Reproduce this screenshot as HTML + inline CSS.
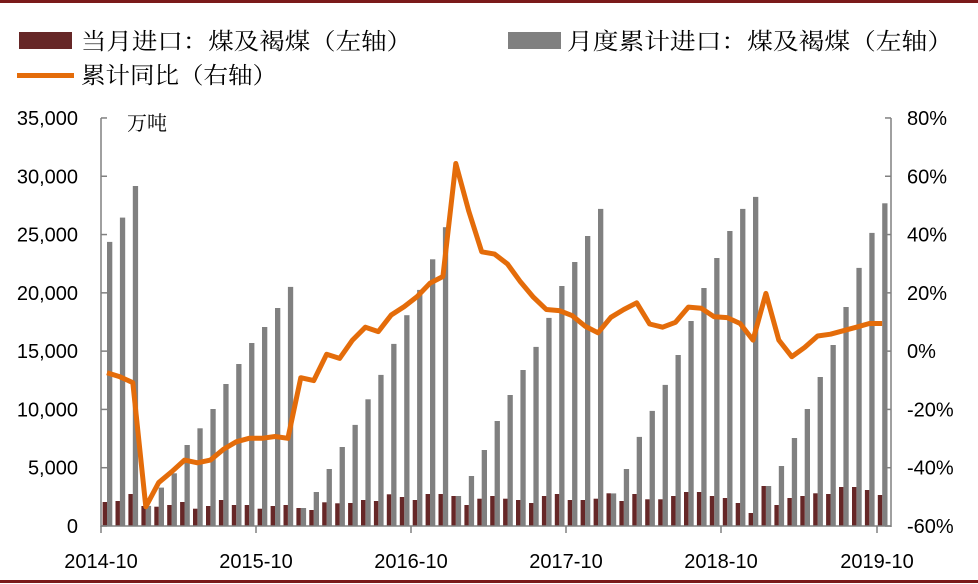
<!DOCTYPE html>
<html><head><meta charset="utf-8"><style>
body{margin:0;background:#fff;}
svg{display:block;}
text{font-family:"Liberation Sans",Arial,sans-serif;fill:#000;}
.cjk{font-family:"Liberation Serif","Noto Serif CJK SC","Noto Sans CJK SC",serif;}
</style></head><body>
<svg id="c" width="978" height="584" xmlns="http://www.w3.org/2000/svg">
<rect x="0" y="0" width="978" height="3" fill="#7a1a1a"/>
<rect x="0" y="580" width="978" height="3" fill="#7a1a1a"/>
<rect x="19" y="32" width="53" height="17" fill="#662727"/>
<text class="cjk" x="81" y="49" font-size="23" textLength="331" lengthAdjust="spacingAndGlyphs">当月进口：煤及褐煤（左轴）</text>
<rect x="508" y="32" width="53" height="17" fill="#808080"/>
<text class="cjk" x="567" y="49" font-size="23" textLength="386" lengthAdjust="spacingAndGlyphs">月度累计进口：煤及褐煤（左轴）</text>
<rect x="17" y="73" width="57" height="5" fill="#e46c0a"/>
<text class="cjk" x="81" y="83" font-size="23" textLength="196" lengthAdjust="spacingAndGlyphs">累计同比（右轴）</text>
<text class="cjk" x="127" y="130" font-size="20">万吨</text>
<g id="g"></g>
</svg>
<script>
var g=document.getElementById('g'),h='';
var gray=[24370,26460,29170,1720,3290,4520,6950,8380,10040,12180,13900,15700,17070,18700,20510,1540,2920,4890,6780,8670,10870,12960,15620,18080,20250,22880,25630,2570,4290,6520,9010,11240,13380,15360,17850,20590,22650,24880,27200,2800,4890,7640,9870,12100,14670,17590,20420,22990,25310,27200,28230,3430,5150,7550,10040,12780,15530,18790,22140,25140,27680];
var dk=[1176,1173,1152,1188,1190,1185,1176,1196,1188,1170,1185,1185,1196,1188,1185,1194,1200,1177,1180,1179,1170,1173,1153,1161,1170,1152,1152,1158,1185,1166,1158,1166,1170,1179,1158,1152,1170,1170,1166,1150,1173,1152,1168,1168,1158,1146,1146,1158,1164,1179,1209,1128,1185,1164,1158,1150,1152,1131,1131,1140,1155].map(function(z){return (1248-z)*28.6;});
var ln=[-7.4,-8.8,-10.8,-53.4,-45.1,-41.4,-37.4,-38.3,-37.4,-33.7,-31.1,-29.9,-29.9,-29.3,-29.9,-9.1,-10.1,-1.1,-2.5,3.8,8.2,6.7,12.4,15.3,18.7,23.3,25.6,64.4,48,34.1,33.3,29.9,23.8,18.5,14.3,13.9,12.2,8.6,6.3,11.6,14.3,16.6,9.3,8.2,9.9,15.1,14.7,11.8,11.5,9.5,3.8,19.8,3.8,-1.9,1.3,5.2,5.8,7.0,8.2,9.5,9.5];
var B=526,k=408/35000,s=12.92,x0=101;
for(var i=0;i<61;i++){var x=x0+s*i;
h+='<rect x="'+(x+6).toFixed(1)+'" y="'+(B-gray[i]*k).toFixed(1)+'" width="5.3" height="'+(gray[i]*k).toFixed(1)+'" fill="#808080"/>';
h+='<rect x="'+(x+1.6).toFixed(1)+'" y="'+(B-dk[i]*k).toFixed(1)+'" width="4.4" height="'+(dk[i]*k).toFixed(1)+'" fill="#662727"/>';}
var p=[];for(i=0;i<61;i++)p.push((x0+s*i+6).toFixed(1)+','+(B-(ln[i]+60)*408/140).toFixed(1));
h+='<polyline points="'+p.join(' ')+'" fill="none" stroke="#e46c0a" stroke-width="5" stroke-linejoin="round"/>';
h+='<line x1="101" y1="118" x2="101" y2="527" stroke="#808080" stroke-width="1.5"/>';
h+='<line x1="891" y1="118" x2="891" y2="527" stroke="#808080" stroke-width="1.5"/>';
h+='<line x1="101" y1="526" x2="891" y2="526" stroke="#808080" stroke-width="1.5"/>';
var L=['0','5,000','10,000','15,000','20,000','25,000','30,000','35,000'];
var R=['-60%','-40%','-20%','0%','20%','40%','60%','80%'];
for(i=0;i<8;i++){var y=B-i*58.29;
h+='<line x1="101" y1="'+y+'" x2="107" y2="'+y+'" stroke="#808080" stroke-width="1.5"/>';
h+='<line x1="885" y1="'+y+'" x2="891" y2="'+y+'" stroke="#808080" stroke-width="1.5"/>';
h+='<text x="78" y="'+(y+7)+'" font-size="20" text-anchor="end">'+L[i]+'</text>';
h+='<text x="907" y="'+(y+7)+'" font-size="20">'+R[i]+'</text>';}
var X=['2014-10','2015-10','2016-10','2017-10','2018-10','2019-10'];
for(i=0;i<6;i++){var x=x0+155*i+(i==5?1:0);
h+='<line x1="'+x+'" y1="526" x2="'+x+'" y2="533" stroke="#808080" stroke-width="1.5"/>';
h+='<text x="'+x+'" y="568" font-size="20" text-anchor="middle">'+X[i]+'</text>';}
g.innerHTML=h;
</script>
</body></html>
